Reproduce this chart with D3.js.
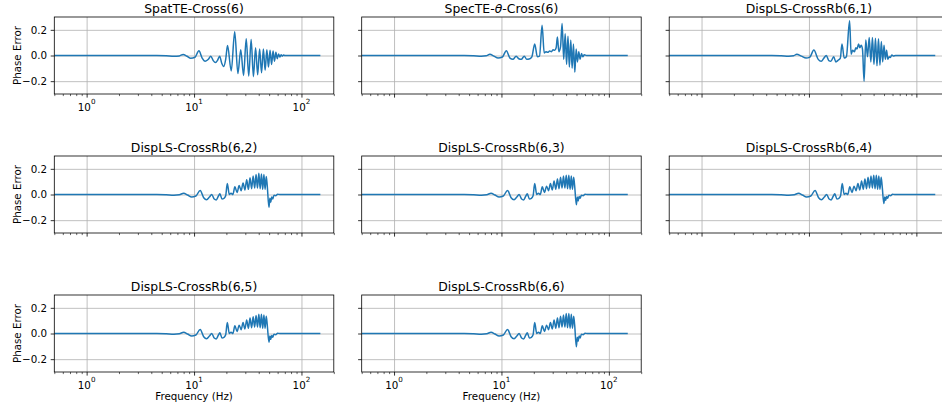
<!DOCTYPE html>
<html>
<head>
<meta charset="utf-8">
<script src="https://cdn.jsdelivr.net/npm/d3@7"></script>
<style>
  body { margin: 0; background: #fff; }
  svg { display: block; }
  text { font-family: "DejaVu Sans", sans-serif; fill: #000; }
</style>
</head>
<body>
<svg id="chart" width="942" height="412"></svg>
<script>
// ---- data: phase error versus frequency for each estimator ----
const panelTitles = [
  "SpatTE-Cross(6)", "SpecTE-θ-Cross(6)", "DispLS-CrossRb(6,1)",
  "DispLS-CrossRb(6,2)", "DispLS-CrossRb(6,3)", "DispLS-CrossRb(6,4)",
  "DispLS-CrossRb(6,5)", "DispLS-CrossRb(6,6)"
];

const freqSpatTE = [0.5, 4.5, 5.5, 6.5, 7.3, 7.9, 8.6, 9.3, 10.2, 11.1, 11.9, 12.7, 13.6, 14.3, 15.1, 15.8, 16.6, 17.3, 18.1, 18.9, 19.7, 20.5, 22.2, 23.9, 25.6, 27.2, 28.9, 30.6, 32.3, 34.0, 35.7, 37.4, 39.1, 40.8, 42.5, 44.2, 45.9, 47.6, 49.3, 51.0, 52.7, 54.4, 56.1, 57.8, 59.5, 61.2, 62.9, 64.6, 66.3, 68.0, 70, 150];
const errSpatTE  = [0, 0, -0.002, -0.006, -0.003, 0.008, -0.006, -0.022, -0.014, 0.037, -0.02, -0.045, -0.03, -0.005, -0.04, -0.055, -0.035, -0.005, -0.06, -0.085, -0.03, 0.078, -0.12, 0.185, -0.14, 0.045, -0.155, 0.13, -0.16, 0.125, -0.165, 0.06, -0.15, 0.05, -0.135, 0.05, -0.115, 0.045, -0.09, 0.04, -0.07, 0.035, -0.045, 0.025, -0.025, 0.012, -0.012, 0.006, -0.005, 0.003, 0, 0];

const freqSpecTE = [0.5, 4.5, 5.5, 6.5, 7.2, 7.8, 8.5, 9.3, 10.2, 11.1, 12.0, 12.8, 13.7, 14.5, 15.3, 16.3, 17.2, 18.1, 19.2, 20.4, 21.6, 22.6, 23.9, 25.0, 26.0, 27.0, 28.1, 29.2, 30.3, 31.3, 32.3, 33.2, 34.2, 35.5, 36.7, 38.0, 39.2, 40.4, 41.6, 42.9, 44.2, 45.5, 46.8, 48.2, 49.6, 51.0, 52.5, 54.0, 55.6, 57.2, 59, 62, 150];
const errSpecTE  = [0, 0, -0.002, -0.005, -0.002, 0.009, -0.005, -0.02, -0.012, 0.037, -0.02, -0.03, -0.005, -0.025, -0.03, -0.005, -0.03, -0.028, -0.01, 0.09, -0.01, -0.005, 0.235, 0.02, 0.03, 0.025, 0.035, 0.03, 0.045, 0.04, 0.06, 0.145, 0.03, 0.07, 0.25, -0.03, 0.17, -0.07, 0.15, -0.09, 0.12, -0.1, 0.09, -0.13, 0.05, -0.05, 0.03, -0.03, 0.015, -0.01, 0.005, 0, 0];

const freqRb1 = [0.5, 4.5, 5.5, 6.5, 7.2, 7.7, 8.5, 9.4, 10.2, 11.1, 12.2, 13.0, 13.8, 14.5, 15.3, 16.0, 17.0, 17.8, 18.8, 19.6, 20.3, 21.3, 22.3, 23.9, 24.7, 25.5, 26.5, 27.3, 28.0, 29.0, 29.8, 30.6, 31.5, 32.6, 33.8, 35.1, 36.4, 37.7, 39.0, 40.3, 41.6, 43.0, 44.4, 45.8, 47.2, 48.6, 50.0, 51.4, 52.8, 54.3, 55.8, 57.3, 59, 61, 64, 150];
const errRb1  = [0, 0, -0.002, -0.005, -0.002, 0.01, -0.005, -0.02, -0.012, 0.042, -0.03, -0.045, -0.02, 0.0, -0.04, -0.045, -0.01, -0.05, -0.035, -0.02, 0.09, -0.02, -0.01, 0.27, 0.01, 0.04, 0.03, 0.06, 0.05, 0.09, 0.06, 0.08, 0.05, -0.2, 0.12, -0.01, 0.14, -0.05, 0.14, -0.07, 0.135, -0.08, 0.13, -0.075, 0.11, -0.05, 0.08, -0.03, 0.04, -0.03, -0.01, -0.015, 0.004, -0.003, 0, 0];

// DispLS-CrossRb(6,2..6) share one frequency grid
const freqRb = [0.5, 4.5, 5.5, 6.5, 7.3, 8.0, 8.7, 9.5, 10.4, 11.4, 12.3, 13.1, 13.9, 14.6, 15.4, 16.1, 16.8, 17.4, 18.2, 19.0, 19.7, 20.4, 21.3, 22.1, 23.0, 24.0, 25.15, 26.3, 27.45, 28.6, 29.75, 30.9, 32.05, 33.2, 34.35, 35.5, 36.65, 37.8, 38.95, 40.1, 41.25, 42.4, 43.55, 44.7, 45.85, 47.0, 48.0, 49.8, 50.8, 51.8, 52.8, 54, 55.5, 57.5, 60, 63, 150];
const errRb2 = [0, 0, -0.002, -0.005, -0.002, 0.01, -0.004, -0.02, -0.012, 0.032, -0.025, -0.04, -0.02, 0.0, -0.035, -0.042, -0.015, 0.005, -0.035, -0.03, -0.01, 0.085, 0.0, 0.01, 0.0, 0.06, 0.015, 0.07, 0.03, 0.09, 0.035, 0.115, 0.04, 0.13, 0.045, 0.145, 0.05, 0.155, 0.05, 0.165, 0.045, 0.16, 0.04, 0.155, 0.04, 0.14, 0.07, -0.1, -0.03, -0.06, -0.02, -0.035, -0.005, -0.01, 0.002, 0, 0];
const errRb3 = [0, 0, -0.002, -0.005, -0.002, 0.01, -0.004, -0.02, -0.012, 0.032, -0.025, -0.04, -0.02, 0.0, -0.035, -0.042, -0.015, 0.005, -0.035, -0.03, -0.01, 0.085, 0.0, 0.01, 0.0, 0.06, 0.015, 0.065, 0.03, 0.085, 0.035, 0.105, 0.04, 0.12, 0.045, 0.135, 0.05, 0.145, 0.05, 0.15, 0.045, 0.15, 0.04, 0.145, 0.04, 0.135, 0.07, -0.08, -0.02, -0.05, -0.015, -0.03, -0.005, -0.01, 0.002, 0, 0];
const errRb4 = [0, 0, -0.002, -0.005, -0.002, 0.01, -0.004, -0.02, -0.012, 0.032, -0.025, -0.04, -0.02, 0.0, -0.035, -0.042, -0.015, 0.005, -0.035, -0.03, -0.01, 0.085, 0.0, 0.01, 0.0, 0.06, 0.015, 0.065, 0.03, 0.085, 0.035, 0.105, 0.04, 0.12, 0.045, 0.135, 0.05, 0.145, 0.05, 0.15, 0.045, 0.15, 0.04, 0.145, 0.04, 0.135, 0.07, -0.07, -0.02, -0.045, -0.015, -0.03, -0.005, -0.01, 0.002, 0, 0];
const errRb5 = [0, 0, -0.002, -0.005, -0.002, 0.01, -0.004, -0.02, -0.012, 0.032, -0.025, -0.04, -0.02, 0.0, -0.035, -0.042, -0.015, 0.005, -0.035, -0.03, -0.01, 0.085, 0.0, 0.01, 0.0, 0.06, 0.015, 0.065, 0.03, 0.085, 0.035, 0.105, 0.04, 0.12, 0.045, 0.13, 0.05, 0.14, 0.05, 0.15, 0.045, 0.15, 0.04, 0.145, 0.04, 0.135, 0.07, -0.068, -0.02, -0.045, -0.015, -0.03, -0.005, -0.01, 0.002, 0, 0];
const errRb6 = [0, 0, -0.002, -0.005, -0.002, 0.01, -0.004, -0.02, -0.012, 0.032, -0.025, -0.04, -0.02, 0.0, -0.035, -0.042, -0.015, 0.005, -0.035, -0.03, -0.01, 0.085, 0.0, 0.01, 0.0, 0.06, 0.015, 0.065, 0.03, 0.085, 0.035, 0.105, 0.04, 0.12, 0.045, 0.135, 0.05, 0.145, 0.05, 0.155, 0.045, 0.155, 0.04, 0.15, 0.04, 0.135, 0.07, -0.104, -0.03, -0.06, -0.02, -0.035, -0.005, -0.01, 0.002, 0, 0];

const panelFreqs = [freqSpatTE, freqSpecTE, freqRb1, freqRb, freqRb, freqRb, freqRb, freqRb];
const panelErrors = [errSpatTE, errSpecTE, errRb1, errRb2, errRb3, errRb4, errRb5, errRb6];

const xMajorTicks = [1, 10, 100];
const xTickExponents = ["0", "1", "2"];
const yTicks = [-0.2, 0.0, 0.2];
const yTickLabels = ["\u22120.2", "0.0", "0.2"];
const xDomain = [0.5, 200];
const yDomain = [-0.3, 0.3];
const yAxisTitle = "Phase Error";
const xAxisTitle = "Frequency (Hz)";

// ---- layout ----
const colLeft = [54.3, 361.7, 669.2];
const rowTop = [17, 156, 295];
const axW = 279.5, axH = 77;
const lineColor = "#1f77b4";

const svg = d3.select("#chart");

// minor ticks of the log axis: 2..9 times each decade
const xMinorTicks = [];
for (let e = -1; e <= 2; e++) {
  for (let m = 2; m <= 9; m++) {
    const v = m * Math.pow(10, e);
    if (v >= xDomain[0] && v <= xDomain[1]) xMinorTicks.push(v);
  }
}

panelTitles.forEach((title, i) => {
  const col = i % 3, row = Math.floor(i / 3);
  const left = colLeft[col], top = rowTop[row];
  const showXLabels = (i === 0 || row === 2);
  const showXTitle = row === 2;
  const showYLabels = col === 0;

  const x = d3.scaleLog().domain(xDomain).range([0, axW]);
  const y = d3.scaleLinear().domain(yDomain).range([axH, 0]);

  const g = svg.append("g").attr("transform", `translate(${left},${top})`);

  // grid
  g.append("g").attr("transform", `translate(0,${axH})`)
    .call(d3.axisBottom(x).tickValues(xMajorTicks).tickSize(-axH).tickFormat(""))
    .call(s => s.select(".domain").remove())
    .call(s => s.selectAll("line").attr("stroke", "#b0b0b0").attr("stroke-width", 0.8));
  g.append("g")
    .call(d3.axisLeft(y).tickValues(yTicks).tickSize(-axW).tickFormat(""))
    .call(s => s.select(".domain").remove())
    .call(s => s.selectAll("line").attr("stroke", "#b0b0b0").attr("stroke-width", 0.8));

  // curve
  const clipId = "clip" + i;
  g.append("clipPath").attr("id", clipId)
    .append("rect").attr("width", axW).attr("height", axH);
  const pts = panelFreqs[i].map((f, k) => [f, panelErrors[i][k]]);
  g.append("path")
    .attr("clip-path", `url(#${clipId})`)
    .attr("fill", "none")
    .attr("stroke", lineColor)
    .attr("stroke-width", 1.5)
    .attr("stroke-linejoin", "round")
    .attr("d", d3.line().x(d => x(d[0])).y(d => y(d[1])).curve(d3.curveMonotoneX)(pts));

  // ticks
  g.append("g").attr("transform", `translate(0,${axH})`)
    .call(d3.axisBottom(x).tickValues(xMajorTicks).tickSize(3.6).tickFormat(""))
    .call(s => s.select(".domain").remove())
    .call(s => s.selectAll("line").attr("stroke", "#000").attr("stroke-width", 0.8));
  g.append("g").attr("transform", `translate(0,${axH})`)
    .call(d3.axisBottom(x).tickValues(xMinorTicks).tickSize(2.1).tickFormat(""))
    .call(s => s.select(".domain").remove())
    .call(s => s.selectAll("line").attr("stroke", "#000").attr("stroke-width", 0.6));
  g.append("g")
    .call(d3.axisLeft(y).tickValues(yTicks).tickSize(3.6).tickFormat(""))
    .call(s => s.select(".domain").remove())
    .call(s => s.selectAll("line").attr("stroke", "#000").attr("stroke-width", 0.8));

  // frame
  g.append("rect").attr("width", axW).attr("height", axH)
    .attr("fill", "none").attr("stroke", "#000").attr("stroke-width", 0.8);

  // title (theta set in italic as in math text)
  const t = g.append("text").attr("x", axW / 2).attr("y", -4)
    .attr("text-anchor", "middle").attr("font-size", 12.4);
  const parts = title.split("θ");
  parts.forEach((p, k) => {
    t.append("tspan").text(p);
    if (k < parts.length - 1) t.append("tspan").attr("font-style", "italic").text("θ");
  });

  if (showYLabels) {
    yTicks.forEach((v, k) => {
      g.append("text").attr("x", -7.2).attr("y", y(v)).attr("dy", "0.36em")
        .attr("text-anchor", "end").attr("font-size", 10.3).text(yTickLabels[k]);
    });
    g.append("text")
      .attr("transform", `translate(${17 - left},${axH / 2}) rotate(-90)`)
      .attr("text-anchor", "middle").attr("dy", "0.36em")
      .attr("font-size", 10.3).text(yAxisTitle);
  }

  if (showXLabels) {
    xMajorTicks.forEach((v, k) => {
      const lbl = g.append("text").attr("x", x(v)).attr("y", axH + 16.5)
        .attr("text-anchor", "middle").attr("font-size", 10.3);
      lbl.append("tspan").text("10");
      lbl.append("tspan").attr("font-size", 7.2).attr("dy", -6.5).text(xTickExponents[k]);
    });
  }
  if (showXTitle) {
    g.append("text").attr("x", axW / 2).attr("y", axH + 27.8)
      .attr("text-anchor", "middle").attr("font-size", 10.3).text(xAxisTitle);
  }
});
</script>
</body>
</html>
